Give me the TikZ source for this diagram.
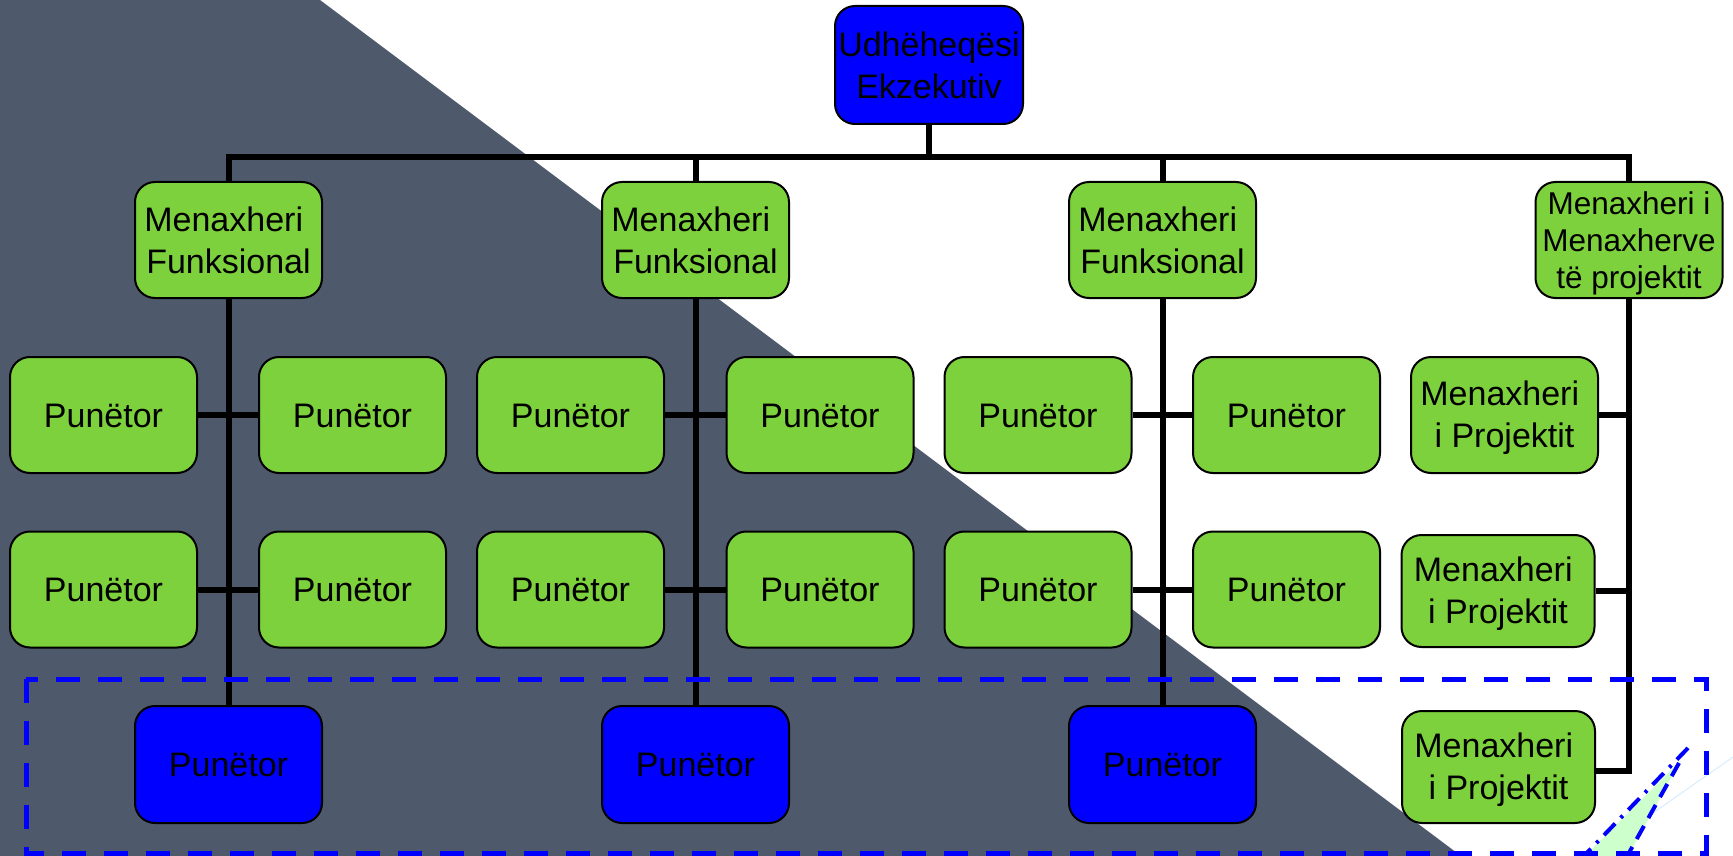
\documentclass[tikz,border=0pt]{standalone}
\usepackage{fontspec}
\setmainfont{Liberation Sans}
\definecolor{slate}{HTML}{4E5A6C}
\definecolor{mgreen}{HTML}{7DD13C}
\definecolor{lgreen}{HTML}{CCFFCC}
\definecolor{pblue}{HTML}{0000FF}
\definecolor{faintblue}{HTML}{D6EEFF}
\begin{document}
\begin{tikzpicture}[x=1pt,y=-1pt,
  box/.style={draw=black, line width=2pt, rounded corners=20pt, fill=mgreen,
    minimum width=187pt, minimum height=116pt, inner sep=0pt, align=center,
    font=\fontsize{34}{42}\selectfont},
  onebox/.style={box, text height=24.5pt, text depth=0pt},
  widebox/.style={box, minimum width=193pt, minimum height=112pt},
  bluebox/.style={onebox, fill=pblue},
  smallfont/.style={font=\fontsize{31.5}{37}\selectfont},
  conn/.style={draw=black, line width=6pt, line join=miter},
  frame/.style={draw=pblue, line width=5pt, dash pattern=on 24pt off 18pt},
  dashdotblue/.style={draw=pblue, line width=4pt, dash pattern=on 16pt off 8pt on 3pt off 8pt},
  dashblue/.style={draw=pblue, line width=4pt, dash pattern=on 15pt off 9pt},
  faint/.style={draw=faintblue, line width=1pt}]
\useasboundingbox (0,0) rectangle (1733,856);
\begin{scope}
  \clip (0,0) rectangle (1733,856);
  \fill[white] (0,0) rectangle (1733,856);
  \fill[slate] (0,0) -- (320,0) -- (1461,856) -- (0,856) -- cycle;
  \fill[lgreen] (1681,760) -- (1585,856) -- (1628,856) -- cycle;
  \coordinate (fa) at (1650,815);
  \coordinate (fb) at (1733,757);
  \draw[faint] (fa) -- (fb);
  \coordinate (da) at (1688,748);
  \coordinate (db) at (1580,860);
  \draw[dashdotblue] (da) -- (db);
  \coordinate (ea) at (1679,763);
  \coordinate (eb) at (1625,860);
  \draw[dashblue] (ea) -- (eb);
\end{scope}

% top
\node[box, fill=pblue, minimum width=188pt, minimum height=118pt] (ceo) at (929,65) {Udhëheqësi\\Ekzekutiv};
% managers
\node[box] (fm1) at (228.5,240) {Menaxheri\kern0.28em\\Funksional};
\node[box] (fm2) at (695.5,240) {Menaxheri\kern0.28em\\Funksional};
\node[box] (fm3) at (1162.5,240) {Menaxheri\kern0.28em\\Funksional};
\node[box, smallfont] (pmm) at (1629,240) {\rule{0pt}{30.5pt}Menaxheri i\\Menaxherve\\të projektit};
% workers column 1
\node[onebox] (a11) at (103.5,415) {Punëtor};
\node[onebox] (a12) at (352.5,415) {Punëtor};
\node[onebox] (a21) at (103.5,589.5) {Punëtor};
\node[onebox] (a22) at (352.5,589.5) {Punëtor};
% workers column 2
\node[onebox] (b11) at (570.5,415) {Punëtor};
\node[onebox] (b12) at (820,415) {Punëtor};
\node[onebox] (b21) at (570.5,589.5) {Punëtor};
\node[onebox] (b22) at (820,589.5) {Punëtor};
% workers column 3
\node[onebox] (c11) at (1038,415) {Punëtor};
\node[onebox] (c12) at (1286.5,415) {Punëtor};
\node[onebox] (c21) at (1038,589.5) {Punëtor};
\node[onebox] (c22) at (1286.5,589.5) {Punëtor};
% blue workers
\node[bluebox, minimum height=117pt] (w1) at (228.5,764.5) {Punëtor};
\node[bluebox, minimum height=117pt] (w2) at (695.5,764.5) {Punëtor};
\node[bluebox, minimum height=117pt] (w3) at (1162.5,764.5) {Punëtor};
% project managers
\node[box] (pm1) at (1504.5,415) {\rule{0pt}{30pt}Menaxheri\kern0.28em\\i Projektit};
\node[widebox] (pm2) at (1498,591) {\rule{0pt}{30pt}Menaxheri\kern0.28em\\i Projektit};
\node[widebox] (pm3) at (1498.5,767) {\rule{0pt}{30pt}Menaxheri\kern0.28em\\i Projektit};

% connectors
\coordinate (bar) at (929,157);
\draw[conn] (ceo.south) -- (bar);
\draw[conn] (fm1.north) |- (bar) -| (pmm.north);
\draw[conn] (fm2.north) -- (fm2.north |- bar);
\draw[conn] (fm3.north) -- (fm3.north |- bar);
\draw[conn] (fm1.south) -- (w1.north);
\draw[conn] (fm2.south) -- (w2.north);
\draw[conn] (fm3.south) -- (w3.north);
\draw[conn] (a11.east) -- (a12.west);
\draw[conn] (a21.east) -- (a22.west);
\draw[conn] (b11.east) -- (b12.west);
\draw[conn] (b21.east) -- (b22.west);
\draw[conn] (c11.east) -- (c12.west);
\draw[conn] (c21.east) -- (c22.west);
\draw[conn] (pmm.south) |- ([yshift=-4pt]pm3.east);
\draw[conn] (pm1.east) -- (pm1.east -| pmm.south);
\draw[conn] (pm2.east) -- (pm2.east -| pmm.south);

% dashed frame
\coordinate (f1) at (26,679);
\coordinate (f2) at (1706,853);
\draw[frame] (f1) rectangle (f2);
\end{tikzpicture}
\end{document}
